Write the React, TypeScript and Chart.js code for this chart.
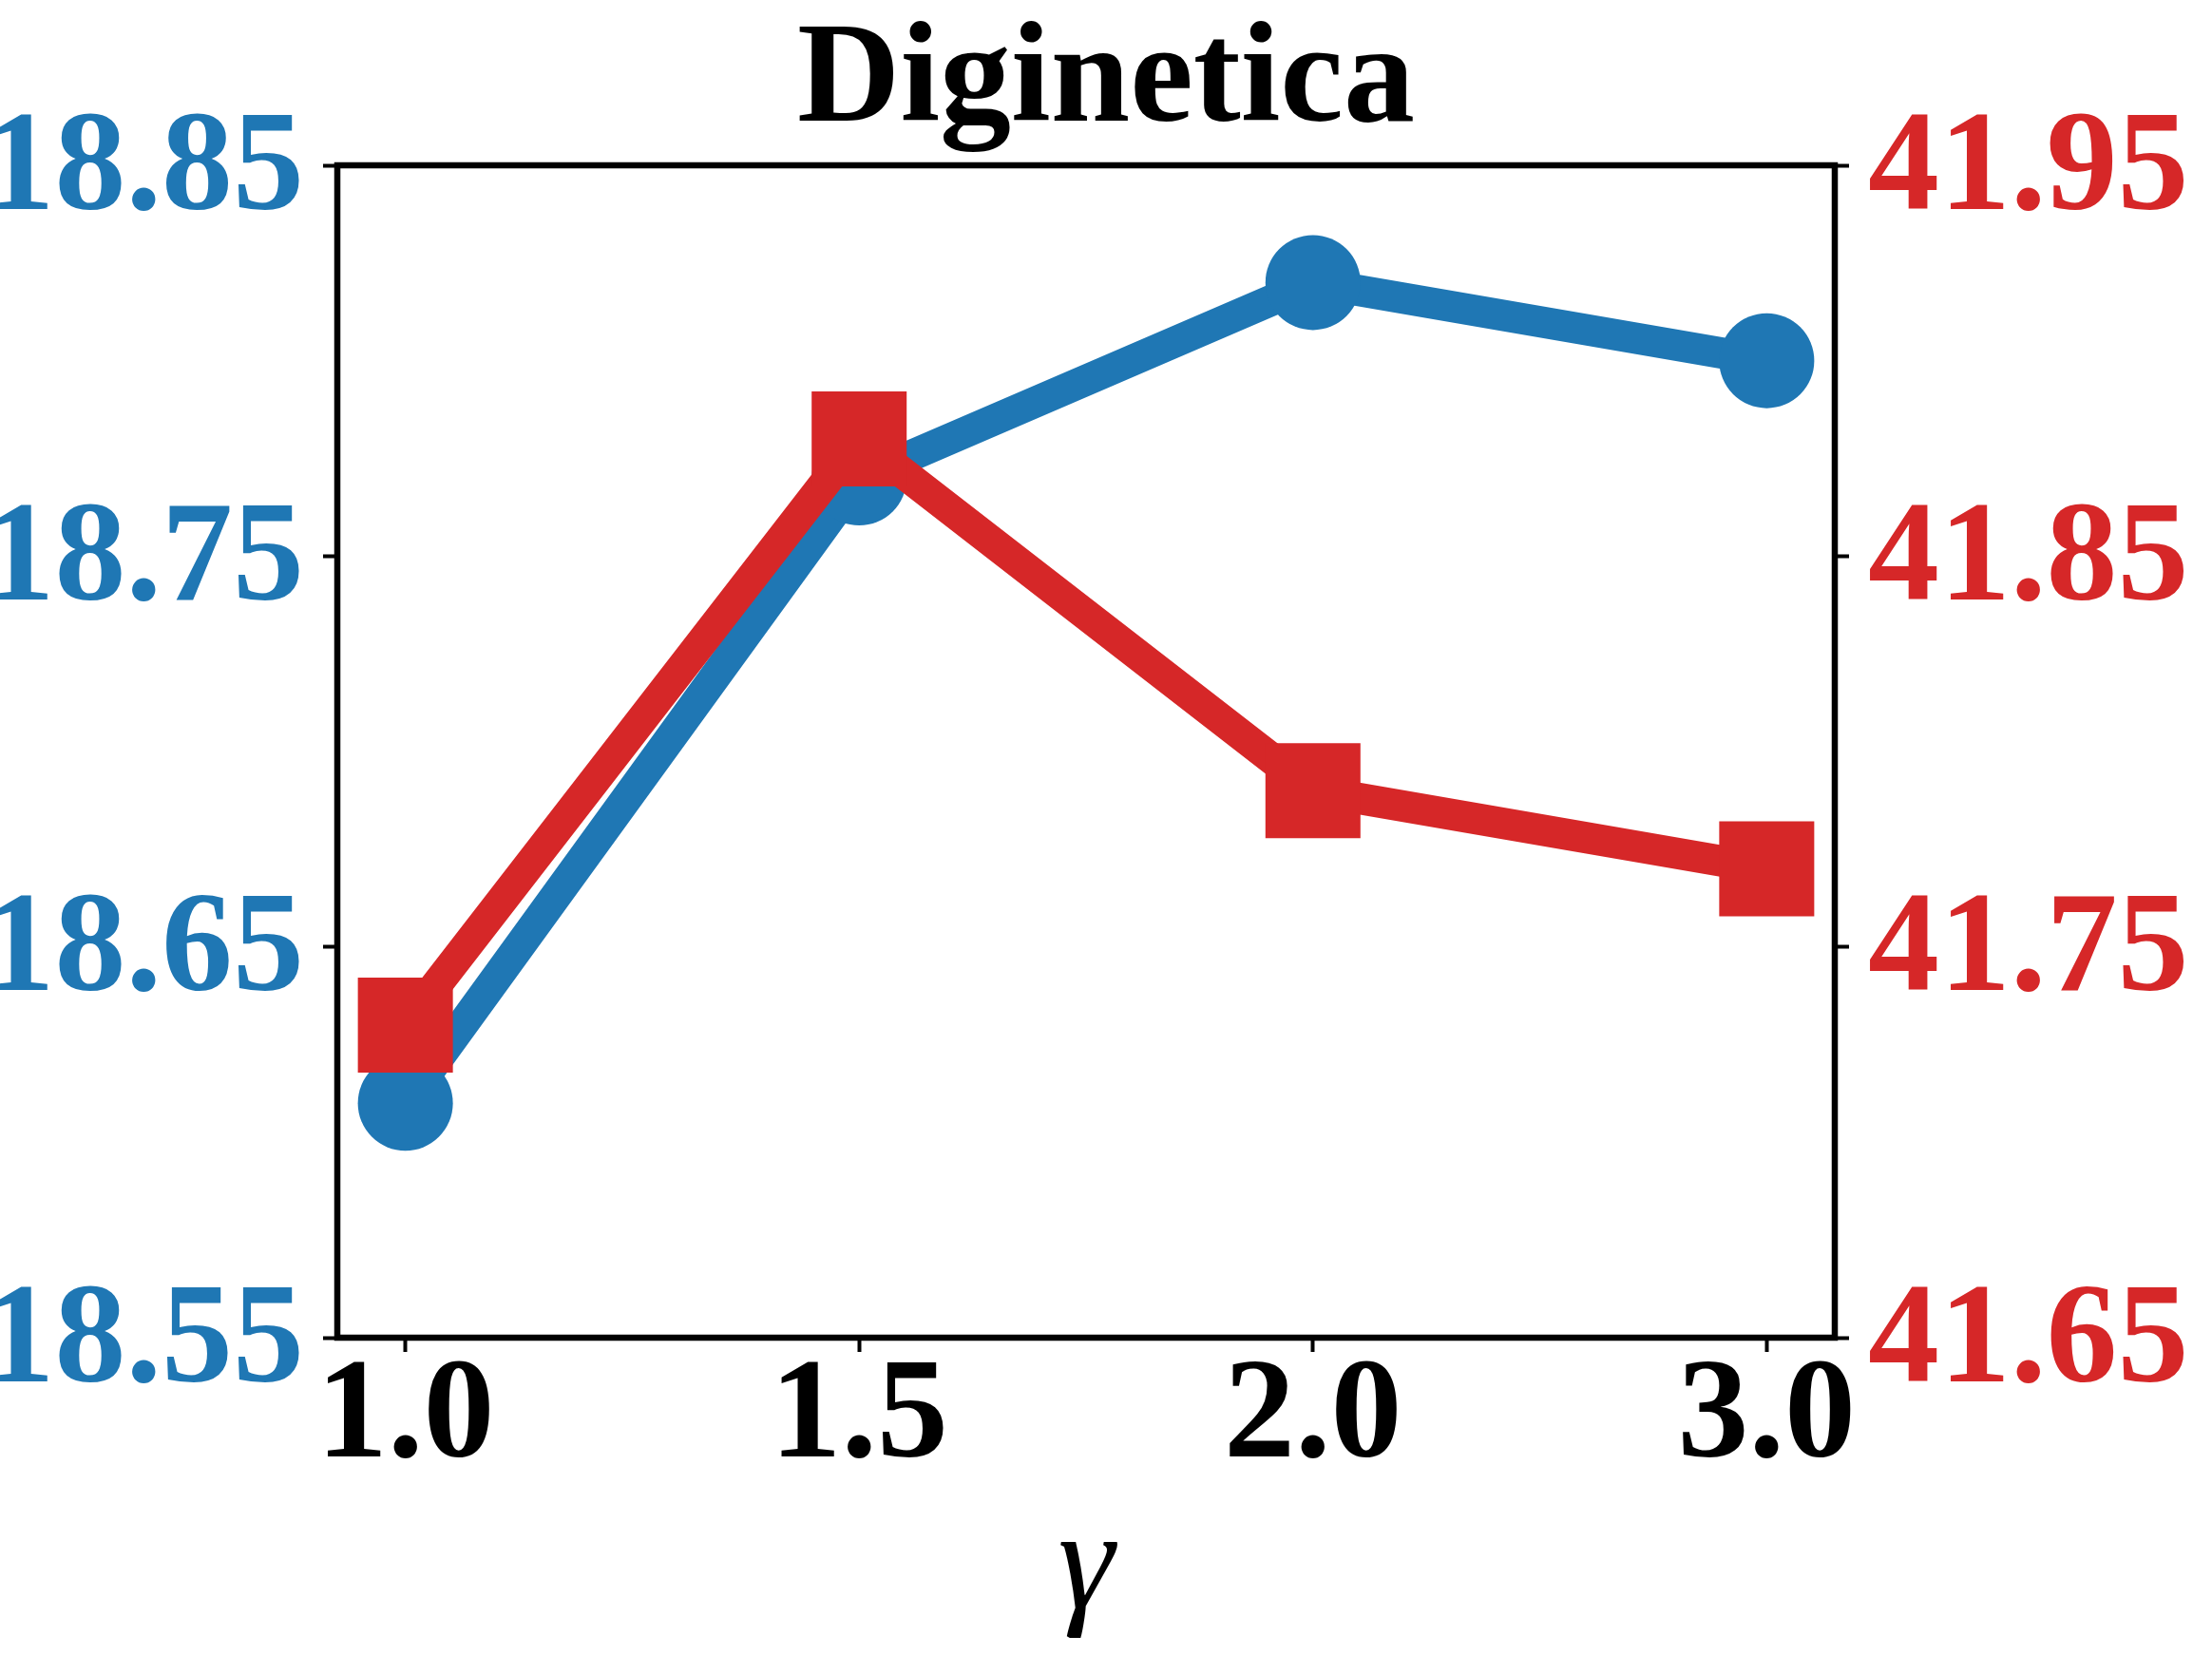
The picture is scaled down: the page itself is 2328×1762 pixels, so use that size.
import { useEffect, useRef } from 'react';
import { Chart, registerables } from 'chart.js';

Chart.register(...registerables);

// γ values on the x axis (drawn at evenly spaced positions)
const gammaLabels = ['1.0', '1.5', '2.0', '3.0'];
const gammaPositions = [0, 1, 2, 3];

// Left-axis metric (blue circles) and right-axis metric (red squares)
const leftSeries = [18.61, 18.77, 18.82, 18.8];
const rightSeries = [41.73, 41.88, 41.79, 41.77];

const leftTicks = [18.55, 18.65, 18.75, 18.85];
const rightTicks = [41.65, 41.75, 41.85, 41.95];

const BLUE = '#1f77b4';
const RED = '#d62728';
const FONT = "'Liberation Serif', 'Times New Roman', Tinos, Times, serif";

const WIDTH = 2328;
const HEIGHT = 1762;
const PLOT_LEFT = 355;
const PLOT_RIGHT = 1931;
const PLOT_BOTTOM = 1408;

// Black frame around the plotting area
const framePlugin = {
  id: 'frame',
  afterDraw(chart: any) {
    const { ctx, chartArea } = chart;
    const { left, top, right, bottom } = chartArea;
    ctx.save();
    ctx.strokeStyle = '#000';
    ctx.lineWidth = 6.5;
    ctx.strokeRect(left, top, right - left, bottom - top);
    ctx.restore();
  },
};

export default function App() {
  const canvasRef = useRef<HTMLCanvasElement | null>(null);

  useEffect(() => {
    const canvas = canvasRef.current;
    if (!canvas) return;

    const tickGrid = {
      display: true,
      drawOnChartArea: false,
      drawTicks: true,
      tickLength: 15,
      tickWidth: 4,
      tickColor: '#000',
      color: '#000',
    };

    const chart = new Chart(canvas, {
      type: 'line',
      data: {
        datasets: [
          {
            label: 'left',
            data: gammaPositions.map((x, i) => ({ x, y: leftSeries[i] })),
            yAxisID: 'yLeft',
            borderColor: BLUE,
            backgroundColor: BLUE,
            borderWidth: 33,
            borderJoinStyle: 'round',
            tension: 0,
            pointStyle: 'circle',
            pointRadius: 50,
            pointHoverRadius: 50,
            pointBorderWidth: 0,
            pointBackgroundColor: BLUE,
            order: 2,
            clip: false,
          },
          {
            label: 'right',
            data: gammaPositions.map((x, i) => ({ x, y: rightSeries[i] })),
            yAxisID: 'yRight',
            borderColor: RED,
            backgroundColor: RED,
            borderWidth: 33,
            borderJoinStyle: 'round',
            tension: 0,
            pointStyle: 'rect',
            pointRadius: 50 * Math.SQRT2,
            pointHoverRadius: 50 * Math.SQRT2,
            pointBorderWidth: 0,
            pointBackgroundColor: RED,
            order: 1,
            clip: false,
          },
        ],
      },
      options: {
        animation: false,
        responsive: false,
        maintainAspectRatio: false,
        events: [],
        layout: { padding: 0 },
        plugins: {
          legend: { display: false },
          tooltip: { enabled: false },
          title: {
            display: true,
            text: 'Diginetica',
            color: '#000',
            font: { family: FONT, size: 150, weight: 'bold', lineHeight: 1 },
            padding: { top: 13, bottom: 11 },
          },
        },
        scales: {
          x: {
            type: 'linear',
            min: -0.15,
            max: 3.15,
            afterBuildTicks: (scale: any) => {
              scale.ticks = gammaPositions.map((v) => ({ value: v }));
            },
            afterFit: (scale: any) => {
              scale.height = HEIGHT - PLOT_BOTTOM;
            },
            grid: tickGrid,
            border: { display: false },
            ticks: {
              color: '#000',
              padding: 11,
              maxRotation: 0,
              autoSkip: false,
              font: { family: FONT, size: 150, weight: 'bold', lineHeight: 0.8 },
              callback: (value: any) => gammaLabels[gammaPositions.indexOf(Number(value))] ?? '',
            },
            title: {
              display: true,
              text: 'γ',
              color: '#000',
              font: { family: FONT, size: 150, style: 'italic', lineHeight: 1 },
              padding: { top: 0, bottom: 34 },
            },
          },
          yLeft: {
            type: 'linear',
            position: 'left',
            min: leftTicks[0],
            max: leftTicks[leftTicks.length - 1],
            afterBuildTicks: (scale: any) => {
              scale.ticks = leftTicks.map((v) => ({ value: v }));
            },
            afterFit: (scale: any) => {
              scale.width = PLOT_LEFT;
            },
            grid: tickGrid,
            border: { display: false },
            ticks: {
              color: BLUE,
              padding: 20,
              labelOffset: 7,
              font: { family: FONT, size: 150, weight: 'bold', lineHeight: 1 },
              callback: (value: any) => Number(value).toFixed(2),
            },
          },
          yRight: {
            type: 'linear',
            position: 'right',
            min: rightTicks[0],
            max: rightTicks[rightTicks.length - 1],
            afterBuildTicks: (scale: any) => {
              scale.ticks = rightTicks.map((v) => ({ value: v }));
            },
            afterFit: (scale: any) => {
              scale.width = WIDTH - PLOT_RIGHT;
            },
            grid: tickGrid,
            border: { display: false },
            ticks: {
              color: RED,
              padding: 20,
              labelOffset: 7,
              font: { family: FONT, size: 150, weight: 'bold', lineHeight: 1 },
              callback: (value: any) => Number(value).toFixed(2),
            },
          },
        },
      } as any,
      plugins: [framePlugin],
    });

    return () => {
      chart.destroy();
    };
  }, []);

  return (
    <div
      style={{
        position: 'absolute',
        left: 0,
        top: 0,
        width: WIDTH,
        height: HEIGHT,
        background: '#fff',
        overflow: 'hidden',
      }}
    >
      <canvas ref={canvasRef} width={WIDTH} height={HEIGHT} style={{ display: 'block' }} />
    </div>
  );
}
